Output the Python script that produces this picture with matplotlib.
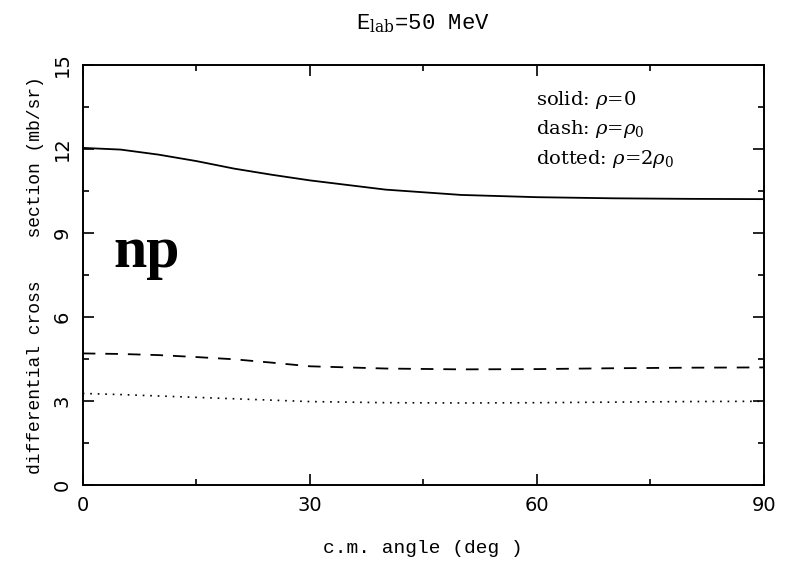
import matplotlib
matplotlib.use("Agg")
import matplotlib.pyplot as plt
from matplotlib.ticker import MultipleLocator

# cross sections at E_lab = 50 MeV, three densities
angle = [0, 5, 10, 15, 20, 25, 30, 40, 50, 60, 70, 80, 90]
rho_0 = [12.04, 11.98, 11.80, 11.57, 11.30, 11.08, 10.88, 10.55, 10.36, 10.28, 10.24, 10.22, 10.21]
rho_1 = [4.70, 4.68, 4.64, 4.57, 4.49, 4.37, 4.24, 4.16, 4.13, 4.14, 4.17, 4.19, 4.20]
rho_2 = [3.27, 3.23, 3.18, 3.13, 3.08, 3.03, 2.98, 2.94, 2.93, 2.94, 2.96, 2.98, 2.99]

x_ticks = [0, 30, 60, 90]
y_ticks = [0, 3, 6, 9, 12, 15]

plt.rcParams['mathtext.fontset'] = 'dejavuserif'

fig = plt.figure(figsize=(7.88, 5.62), dpi=100)
ax = fig.add_axes([0.105, 0.137, 0.8645, 0.7473])

ax.plot(angle, rho_0, color='black', lw=1.3, ls='-')
ax.plot(angle, rho_1, color='black', lw=1.3, ls=(0, (7, 5.5)))
ax.plot(angle, rho_2, color='black', lw=1.2, ls=(0, (1, 3.5)))

ax.set_xlim(0, 90)
ax.set_ylim(0, 15)
ax.set_xticks(x_ticks)
ax.set_yticks(y_ticks)
ax.xaxis.set_minor_locator(MultipleLocator(15))
ax.yaxis.set_minor_locator(MultipleLocator(1.5))
ax.tick_params(which='both', direction='in', top=True, right=True, width=1.2)
ax.tick_params(which='major', length=8, labelsize=14, pad=8)
ax.tick_params(which='minor', length=4)
for lab in ax.get_yticklabels():
    lab.set_rotation(90)
    lab.set_va('center')
for sp in ax.spines.values():
    sp.set_linewidth(1.4)

ax.set_xlabel('c.m. angle (deg )', family='Liberation Mono', fontsize=14, labelpad=18)
ax.set_ylabel('differential cross    section (mb/sr)', family='Liberation Mono', fontsize=13, labelpad=6)
ax.set_title(r'E$_{\rm lab}$=50 MeV', family='Liberation Mono', fontsize=16, pad=26)

ax.text(0.665, 0.905, r'solid: $\rho$=0', transform=ax.transAxes, family='DejaVu Serif', fontsize=14)
ax.text(0.665, 0.835, r'dash: $\rho$=$\rho_0$', transform=ax.transAxes, family='DejaVu Serif', fontsize=14)
ax.text(0.665, 0.765, r'dotted: $\rho$=2$\rho_0$', transform=ax.transAxes, family='DejaVu Serif', fontsize=14)

ax.text(0.045, 0.52, 'np', transform=ax.transAxes, family='Liberation Serif',
        fontweight='bold', fontsize=43)

fig.savefig('out.png', dpi=100)
